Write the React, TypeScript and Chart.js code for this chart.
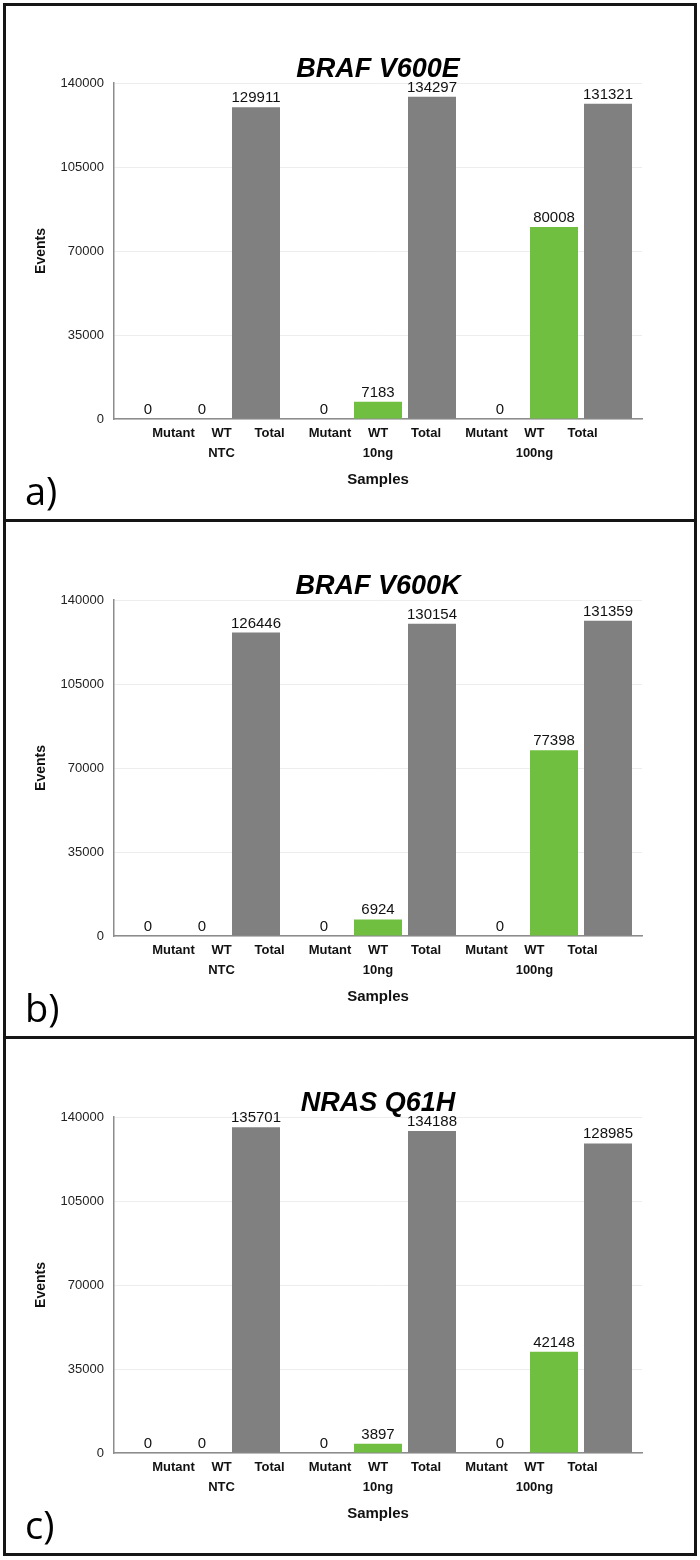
import React, { useEffect, useRef } from "react";
import { Chart, registerables } from "chart.js";

Chart.register(...registerables);

// ---------- data ----------
const GROUPS = ["NTC", "10ng", "100ng"];
const SERIES = ["Mutant", "WT", "Total"];
const X_TICK_LABELS = [
  ["Mutant"], ["WT", "NTC"], ["Total"],
  ["Mutant"], ["WT", "10ng"], ["Total"],
  ["Mutant"], ["WT", "100ng"], ["Total"],
];
const Y_MAX = 140000;
const Y_STEP = 35000;

const TITLES = ["BRAF V600E", "BRAF V600K", "NRAS Q61H"];
const PANEL_LETTERS = ["a)", "b)", "c)"];

const V600E_MUTANT = [0, 0, 0];
const V600E_WT = [0, 7183, 80008];
const V600E_TOTAL = [129911, 134297, 131321];

const V600K_MUTANT = [0, 0, 0];
const V600K_WT = [0, 6924, 77398];
const V600K_TOTAL = [126446, 130154, 131359];

const Q61H_MUTANT = [0, 0, 0];
const Q61H_WT = [0, 3897, 42148];
const Q61H_TOTAL = [135701, 134188, 128985];

const PANEL_DATA = [
  [V600E_MUTANT, V600E_WT, V600E_TOTAL],
  [V600K_MUTANT, V600K_WT, V600K_TOTAL],
  [Q61H_MUTANT, Q61H_WT, Q61H_TOTAL],
];

const SERIES_COLORS = ["#c0504d", "#70bf40", "#808080"];

// ---------- layout constants ----------
const CANVAS_W = 688;
const CANVAS_H = 513;
const PANEL_TOPS = [6, 523, 1040];
const DIVIDERS = [519, 1036];

const FONT = '"Liberation Sans", Arial, Helvetica, sans-serif';

// bar offsets inside a group (category units), derived from Chart.js grouped layout
const CAT_PCT = 162 / 176;
const BAR_PCT = 48 / 54;
const SUB = CAT_PCT / SERIES.length;
const X_TICK_POS: number[] = [];
GROUPS.forEach((_, g) => {
  SERIES.forEach((__, s) => {
    X_TICK_POS.push(g + 0.5 + (s - 1) * SUB);
  });
});

const valueLabelPlugin = {
  id: "valueLabels",
  afterDatasetsDraw(chart: any) {
    const ctx = chart.ctx;
    ctx.save();
    ctx.font = `15px ${FONT}`;
    ctx.fillStyle = "#111";
    ctx.textAlign = "center";
    ctx.textBaseline = "alphabetic";
    chart.data.datasets.forEach((ds: any, di: number) => {
      const meta = chart.getDatasetMeta(di);
      meta.data.forEach((el: any, i: number) => {
        ctx.fillText(String(ds.data[i]), el.x, el.y - 5);
      });
    });
    ctx.restore();
  },
};

function makeLetterPlugin(letter: string) {
  return {
    id: "panelLetter",
    afterDraw(chart: any) {
      const ctx = chart.ctx;
      ctx.save();
      ctx.font = `38px "Open Sans", "DejaVu Sans", sans-serif`;
      ctx.fillStyle = "#000";
      ctx.textAlign = "left";
      ctx.textBaseline = "alphabetic";
      ctx.fillText(letter, 19, 499);
      ctx.restore();
    },
  };
}

function Panel({ index }: { index: number }) {
  const ref = useRef<HTMLCanvasElement | null>(null);
  useEffect(() => {
    if (!ref.current) return;
    const data = PANEL_DATA[index];
    const chart = new Chart(ref.current, {
      type: "bar",
      data: {
        labels: GROUPS,
        datasets: SERIES.map((name, s) => ({
          label: name,
          data: data[s],
          backgroundColor: SERIES_COLORS[s],
          borderWidth: 0,
          categoryPercentage: CAT_PCT,
          barPercentage: BAR_PCT,
        })),
      },
      options: {
        responsive: false,
        animation: false,
        devicePixelRatio: 1,
        layout: { padding: { left: 0, right: 52, top: 0, bottom: 0 } },
        plugins: {
          legend: { display: false },
          tooltip: { enabled: false },
          title: {
            display: true,
            text: TITLES[index],
            fullSize: false,
            color: "#000",
            font: { family: FONT, size: 27, weight: "bold", style: "italic", lineHeight: 0.963 },
            padding: { top: 51, bottom: 0 },
          },
        },
        scales: {
          x: {
            type: "category",
            display: false,
          },
          x2: {
            type: "linear",
            axis: "x",
            position: "bottom",
            min: 0,
            max: GROUPS.length,
            afterBuildTicks: (scale: any) => {
              scale.ticks = X_TICK_POS.map((v) => ({ value: v }));
            },
            afterFit: (scale: any) => {
              scale.height = 100;
            },
            grid: { display: false, drawTicks: false },
            border: { display: true, color: "#8c8c8c", width: 1.5 },
            ticks: {
              autoSkip: false,
              maxRotation: 0,
              minRotation: 0,
              padding: 5,
              color: "#111",
              font: { family: FONT, size: 13, weight: "bold", lineHeight: 1.5 },
              callback: (_v: any, i: number) => X_TICK_LABELS[i],
            },
            title: {
              display: true,
              text: "Samples",
              color: "#111",
              font: { family: FONT, size: 15, weight: "bold", lineHeight: 1.2 },
              padding: { top: 0, bottom: 30 },
            },
          },
          y: {
            min: 0,
            max: Y_MAX,
            afterFit: (scale: any) => {
              scale.width = 108;
            },
            grid: { color: "#ededed", lineWidth: 1, drawTicks: false },
            border: { display: true, color: "#8c8c8c", width: 1.5 },
            ticks: {
              stepSize: Y_STEP,
              padding: 10,
              color: "#222",
              font: { family: FONT, size: 13 },
              callback: (v: any) => String(v),
            },
            title: {
              display: true,
              text: "Events",
              color: "#111",
              font: { family: FONT, size: 14, weight: "bold", lineHeight: 1.2 },
              padding: { top: 27, bottom: 0 },
            },
          },
        },
      },
      plugins: [valueLabelPlugin, makeLetterPlugin(PANEL_LETTERS[index])],
    } as any);
    return () => chart.destroy();
  }, [index]);

  return (
    <canvas
      ref={ref}
      width={CANVAS_W}
      height={CANVAS_H}
      style={{
        position: "absolute",
        left: 6,
        top: PANEL_TOPS[index],
        width: CANVAS_W,
        height: CANVAS_H,
        display: "block",
      }}
    />
  );
}

export default function App() {
  return (
    <div
      style={{
        position: "absolute",
        left: 0,
        top: 0,
        width: 700,
        height: 1560,
        background: "#fff",
      }}
    >
      <div
        style={{
          position: "absolute",
          left: 3,
          top: 3,
          width: 694,
          height: 1553,
          border: "3px solid #151515",
          boxSizing: "border-box",
        }}
      />
      {DIVIDERS.map((y) => (
        <div
          key={y}
          style={{
            position: "absolute",
            left: 3,
            top: y,
            width: 694,
            height: 3,
            background: "#151515",
          }}
        />
      ))}
      {TITLES.map((_, i) => (
        <Panel key={i} index={i} />
      ))}
    </div>
  );
}
